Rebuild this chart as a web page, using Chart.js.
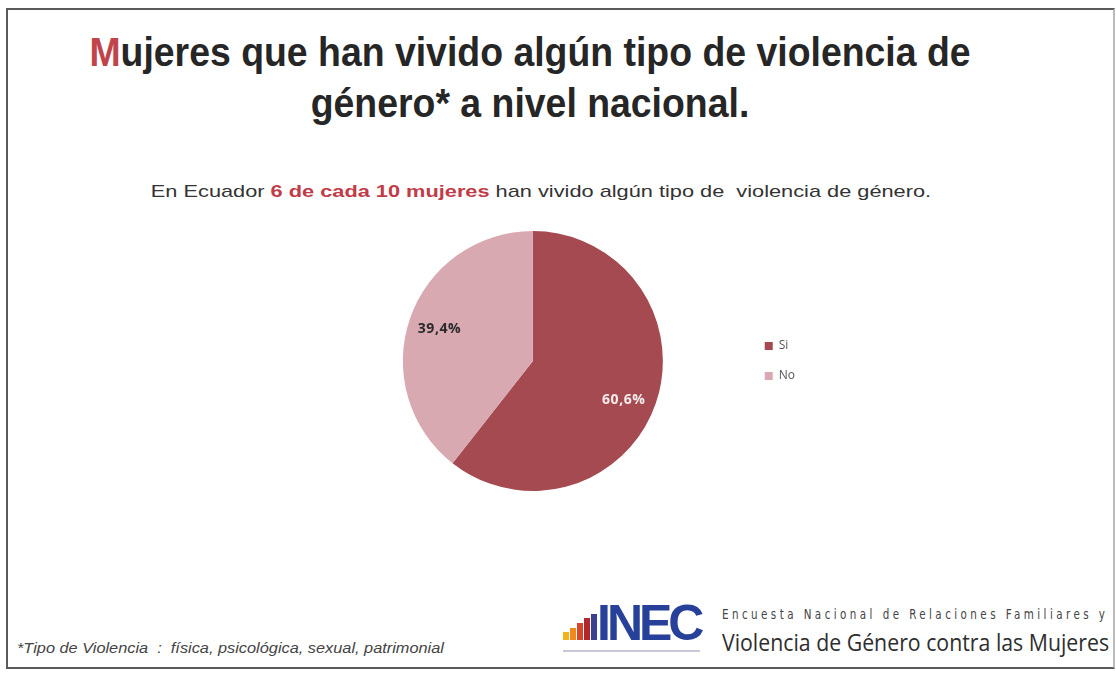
<!DOCTYPE html>
<html>
<head>
<meta charset="utf-8">
<script src="https://cdn.jsdelivr.net/npm/chart.js@4"></script>
<style>
  html, body { margin: 0; padding: 0; background: #fff; }
  body { width: 1116px; height: 675px; position: relative; overflow: hidden; font-family: "Liberation Sans", Arial, sans-serif; }
  .frame { position: absolute; left: 6px; top: 8px; width: 1105px; height: 657px; border: 2px solid #5a5a5a; border-right-color: #bbb; }
  .title { position: absolute; left: 0; width: 1060px; top: 27px; text-align: center; font-weight: bold; font-size: 40px; line-height: 51px; color: #262626; transform: scaleX(0.935); }
  .title .m { color: #c0444a; }
  .sub { position: absolute; left: 0; width: 1082px; top: 182px; text-align: center; font-size: 17px; line-height: 20px; color: #333; transform: scaleX(1.28); }
  .sub b { color: #c23b48; }
  .note { position: absolute; left: 17px; top: 640px; font-size: 14px; line-height: 16px; font-style: italic; color: #444; transform-origin: left; transform: scaleX(1.166); white-space: nowrap; }
  .logo { position: absolute; left: 563px; top: 598px; width: 150px; height: 60px; }
  .bar { position: absolute; bottom: 18px; width: 6px; }
  .inec { position: absolute; left: 34px; top: 0px; font-size: 50px; font-weight: bold; color: #27419a; letter-spacing: -4px; line-height: 50px; }
  .small { position: absolute; left: 0; top: 52px; width: 137px; height: 2px; background: #c8c8d8; }
  .enc1 { position: absolute; left: 722px; top: 606px; font-size: 14px; letter-spacing: 4.2px; color: #444; font-family: "DejaVu Sans Condensed", "DejaVu Sans", sans-serif; transform-origin: left; transform: scaleX(0.82); white-space: nowrap; }
  .enc2 { position: absolute; left: 722px; top: 625px; font-size: 24px; color: #2e2e2e; font-family: "Open Sans", sans-serif; transform-origin: left; transform: scaleX(0.887); white-space: nowrap; }
  #wrap { position: absolute; left: 317px; top: 229px; width: 490px; height: 264px; }
</style>
</head>
<body>
<div class="frame"></div>
<div class="title"><span class="m">M</span>ujeres que han vivido algún tipo de violencia de<br>género* a nivel nacional.</div>
<div class="sub">En Ecuador <b>6 de cada 10 mujeres</b> han vivido algún tipo de&nbsp; violencia de género.</div>
<div id="wrap"><canvas id="pie"></canvas></div>
<div class="note">*Tipo de Violencia&nbsp; :&nbsp; física, psicológica, sexual, patrimonial</div>
<div class="logo">
  <div class="bar" style="left:0;height:8px;background:#f2b21b"></div>
  <div class="bar" style="left:7px;height:12px;background:#ee8a1c"></div>
  <div class="bar" style="left:14px;height:17px;background:#d9452a"></div>
  <div class="bar" style="left:21px;height:22px;background:#b3262c"></div>
  <div class="bar" style="left:28px;height:26px;background:#3a3f8f"></div>
  <div class="inec">INEC</div>
  <div class="small"></div>
</div>
<div class="enc1">Encuesta Nacional de Relaciones Familiares y</div>
<div class="enc2">Violencia de Género contra las Mujeres</div>
<script>
const labels = ["Si", "No"];
const values = [60.6, 39.4];
const colors = ["#a44a50", "#d9a9b2"];
const labelColors = ["#f6ecec", "#2a2a2a"];
const labelNudge = [4, 0]; // degrees, label placement tweak

// draws the percentage text inside each slice
const sliceLabels = {
  id: "sliceLabels",
  afterDatasetsDraw(chart) {
    const ctx = chart.ctx;
    const meta = chart.getDatasetMeta(0);
    meta.data.forEach((arc, i) => {
      const p = arc.getProps(["x", "y", "startAngle", "endAngle", "outerRadius"], true);
      const a = (p.startAngle + p.endAngle) / 2 + (labelNudge[i] * Math.PI) / 180;
      const r = p.outerRadius * 0.76;
      ctx.save();
      ctx.font = "bold 14px 'Open Sans', sans-serif";
      ctx.letterSpacing = "0.6px";
      ctx.fillStyle = labelColors[i];
      ctx.textAlign = "center";
      ctx.textBaseline = "middle";
      ctx.fillText(values[i].toFixed(1).replace(".", ",") + "%", p.x + Math.cos(a) * r, p.y + Math.sin(a) * r);
      ctx.restore();
    });
  },
};

new Chart(document.getElementById("pie"), {
  type: "pie",
  data: { labels, datasets: [{ data: values, backgroundColor: colors, borderWidth: 0 }] },
  options: {
    responsive: true,
    maintainAspectRatio: false,
    animation: false,
    layout: { padding: 2 },
    plugins: {
      tooltip: { enabled: false },
      legend: {
        position: "right",
        labels: { boxWidth: 8, boxHeight: 8, padding: 18, color: "#555", font: { size: 12, family: "'Open Sans', sans-serif" } },
      },
    },
  },
  plugins: [sliceLabels],
});
</script>
</body>
</html>
